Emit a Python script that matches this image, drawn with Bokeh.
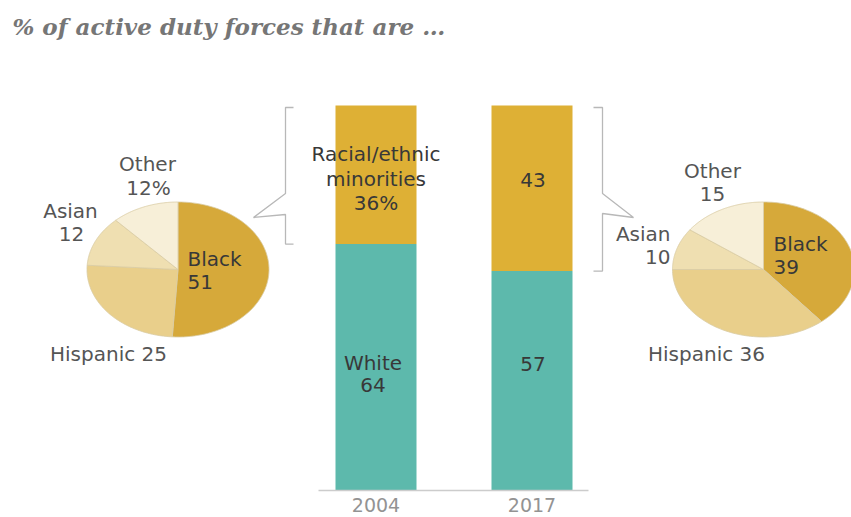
import numpy as np
from bokeh.plotting import figure
from bokeh.models import Range1d, ColumnDataSource
from bokeh.core.properties import value
from bokeh.embed import file_html
from bokeh.resources import INLINE

# ---------------- data ----------------
title_text = "% of active duty forces that are \u2026"
years = ["2004", "2017"]
white = [64, 57]
minority = [36, 43]
slice_names = ["Black", "Hispanic", "Asian", "Other"]
pie_2004 = [51, 25, 12, 12]
pie_2017 = [39, 36, 10, 15]
slice_colors = ["#d6a93a", "#e9cf8b", "#efdfb1", "#f7efd8"]

# ---------------- layout ----------------
W, H = 851, 517
p = figure(width=W, height=H, output_backend="svg", toolbar_location=None,
           x_range=Range1d(0, W), y_range=Range1d(H, 0),
           min_border=0, outline_line_color=None, background_fill_color="white")
p.axis.visible = False
p.grid.visible = False

# bar value scale: 0% at y=490, 100% at y=105
y0, y100 = 490.0, 105.0
ppp = (y0 - y100) / 100.0
p.extra_y_ranges = {"pct": Range1d(start=-(H - y0) / ppp, end=y0 / ppp)}

def pct_to_px(v):
    return y0 - v * ppp

FONT = value("DejaVu Sans")
FS = "20px"
TEXT_DARK = "#383838"
TEXT_GREY = "#555555"

# title
p.text(x=[12], y=[26], text=[title_text], text_font=value("DejaVu Serif"),
       text_font_style="bold italic", text_font_size="23px", text_color="#767676",
       text_baseline="middle", text_align="left")

# bars
bar_x = [375.5, 531.5]
bar_w = 81
src = ColumnDataSource(dict(x=bar_x, white=white, total=[w + m for w, m in zip(white, minority)]))
p.vbar(x="x", width=bar_w, bottom=0, top="white", source=src, y_range_name="pct",
       fill_color="#5db9ac", line_color=None)
p.vbar(x="x", width=bar_w, bottom="white", top="total", source=src, y_range_name="pct",
       fill_color="#deb035", line_color=None)

# baseline
p.line(x=[318, 588], y=[y0, y0], line_color="#cccccc", line_width=1.5)

# year labels
p.text(x=bar_x, y=[504, 504], text=years, text_font=FONT, text_font_size="19px",
       text_color="#939393", text_align="center", text_baseline="middle")

# bar labels
p.text(x=[bar_x[0]] * 3, y=[153, 178, 202],
       text=["Racial/ethnic", "minorities", f"{minority[0]}%"],
       text_font=FONT, text_font_size=FS, text_color=TEXT_DARK,
       text_align="center", text_baseline="middle")
p.text(x=[bar_x[1] + 1], y=[pct_to_px(white[1] + minority[1] / 2) - 8],
       text=[str(minority[1])], text_font=FONT, text_font_size=FS,
       text_color=TEXT_DARK, text_align="center", text_baseline="middle")
p.text(x=[bar_x[0] - 3, bar_x[0] - 3], y=[362, 384],
       text=["White", str(white[0])], text_font=FONT, text_font_size=FS,
       text_color=TEXT_DARK, text_align="center", text_baseline="middle")
p.text(x=[bar_x[1] + 1], y=[363], text=[str(white[1])], text_font=FONT,
       text_font_size=FS, text_color=TEXT_DARK, text_align="center",
       text_baseline="middle")

# braces
bc = "#b8b8b8"
top_px = pct_to_px(100) + 2
lb = pct_to_px(white[0])
p.line(x=[293, 285, 285, 253, 285, 285, 293],
       y=[top_px, top_px, 193, 217, 214, lb, lb], line_color=bc, line_width=1.3)
rb = pct_to_px(white[1])
p.line(x=[593, 602, 602, 633, 602, 602, 593],
       y=[top_px, top_px, 193, 217, 213, rb, rb], line_color=bc, line_width=1.3)

# pies (elliptical, clockwise from 12 o'clock)
def pie(cx, cy, rx, ry, vals):
    cum = np.concatenate([[0], np.cumsum(vals)]) / float(sum(vals)) * 2 * np.pi
    xs, ys = [], []
    for a0, a1 in zip(cum[:-1], cum[1:]):
        t = np.linspace(a0, a1, 80)
        xs.append(np.concatenate([[cx], cx + rx * np.sin(t)]))
        ys.append(np.concatenate([[cy], cy - ry * np.cos(t)]))
    p.patches(xs=xs, ys=ys, fill_color=slice_colors, line_color="#d9cba3",
              line_width=0.8)

pie(177.5, 269, 91, 67.5, pie_2004)
pie(763, 269, 91, 67.5, pie_2017)

def lab(x, y, t, align="center", color=TEXT_GREY):
    p.text(x=[x], y=[y], text=[t], text_font=FONT, text_font_size=FS,
           text_color=color, text_align=align, text_baseline="middle")

# left pie labels
lab(147, 163, slice_names[3])
lab(148, 187, f"{pie_2004[3]}%")
lab(70, 210, slice_names[2])
lab(71, 233, str(pie_2004[2]))
lab(187, 258, slice_names[0], "left", TEXT_DARK)
lab(187, 281, str(pie_2004[0]), "left", TEXT_DARK)
lab(108, 353, f"{slice_names[1]} {pie_2004[1]}")

# right pie labels
lab(712, 170, slice_names[3])
lab(712, 193, str(pie_2017[3]))
lab(670, 233, slice_names[2], "right")
lab(670, 256, str(pie_2017[2]), "right")
lab(773, 243, slice_names[0], "left", TEXT_DARK)
lab(773, 266, str(pie_2017[0]), "left", TEXT_DARK)
lab(706, 353, f"{slice_names[1]} {pie_2017[1]}")

open("out.html", "w").write(file_html(p, INLINE))
